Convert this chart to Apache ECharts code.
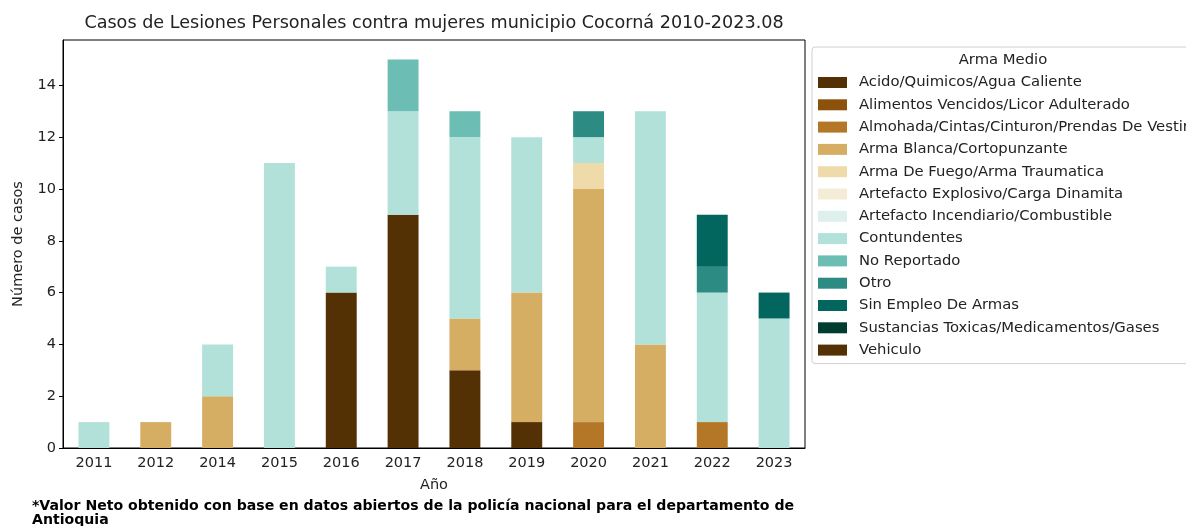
<!DOCTYPE html>
<html><head><meta charset="utf-8">
<script src="https://cdn.jsdelivr.net/npm/echarts@6/dist/echarts.min.js"></script>
<style>html,body{margin:0;padding:0;background:#fff}#c{width:1186px;height:526px}</style>
</head><body><div id="c"></div>
<script>
const years = ['2011','2012','2014','2015','2016','2017','2018','2019','2020','2021','2022','2023'];
const seriesNames = ['Acido/Quimicos/Agua Caliente','Alimentos Vencidos/Licor Adulterado','Almohada/Cintas/Cinturon/Prendas De Vestir','Arma Blanca/Cortopunzante','Arma De Fuego/Arma Traumatica','Artefacto Explosivo/Carga Dinamita','Artefacto Incendiario/Combustible','Contundentes','No Reportado','Otro','Sin Empleo De Armas','Sustancias Toxicas/Medicamentos/Gases','Vehiculo'];
const colors = ['#543005','#8c510a','#b47727','#d5ae64','#eedba9','#f5ecd8','#def0ec','#b1e1d9','#6cbdb3','#2c8c84','#02665e','#003c30','#543005'];
const acido       = [0,0,0,0,6,9,3,1,0,0,0,0];
const alimentos   = [0,0,0,0,0,0,0,0,0,0,0,0];
const almohada    = [0,0,0,0,0,0,0,0,1,0,1,0];
const armaBlanca  = [0,1,2,0,0,0,2,5,9,4,0,0];
const armaFuego   = [0,0,0,0,0,0,0,0,1,0,0,0];
const explosivo   = [0,0,0,0,0,0,0,0,0,0,0,0];
const incendiario = [0,0,0,0,0,0,0,0,0,0,0,0];
const contundentes= [1,0,2,11,1,4,7,6,1,9,5,5];
const noReportado = [0,0,0,0,0,2,1,0,0,0,0,0];
const otro        = [0,0,0,0,0,0,0,0,1,0,1,0];
const sinEmpleo   = [0,0,0,0,0,0,0,0,0,0,2,1];
const sustancias  = [0,0,0,0,0,0,0,0,0,0,0,0];
const vehiculo    = [0,0,0,0,0,0,0,0,0,0,0,0];
const yTicks = [0,2,4,6,8,10,12,14];
const allData = [acido,alimentos,almohada,armaBlanca,armaFuego,explosivo,incendiario,contundentes,noReportado,otro,sinEmpleo,sustancias,vehiculo];

const font = 'DejaVu Sans';
const txt = '#222';
const chart = echarts.init(document.getElementById('c'));
chart.setOption({
  animation: false,
  textStyle: {fontFamily: font},
  grid: {left: 63, top: 40, width: 742, height: 408, show: true, borderColor: '#000', borderWidth: 1, containLabel: false},
  xAxis: {
    type: 'category', data: years,
    axisLine: {lineStyle: {color: '#000'}},
    axisTick: {alignWithLabel: true, length: 4, lineStyle: {color: '#000'}},
    axisLabel: {color: txt, fontSize: 14.5, fontFamily: font, margin: 8},
    name: 'Año', nameLocation: 'middle', nameGap: 30,
    nameTextStyle: {color: txt, fontSize: 14.5, fontFamily: font}
  },
  yAxis: {
    type: 'value', min: 0, max: 15.75, interval: 2,
    splitLine: {show: false},
    axisLine: {show: true, lineStyle: {color: '#000'}},
    axisTick: {show: true, length: 4, lineStyle: {color: '#000'}, customValues: yTicks},
    axisLabel: {color: txt, fontSize: 14.5, fontFamily: font, margin: 7, customValues: yTicks},
    name: 'Número de casos', nameLocation: 'middle', nameGap: 37, nameRotate: 90,
    nameTextStyle: {color: txt, fontSize: 14.5, fontFamily: font}
  },
  legend: {
    orient: 'vertical', left: 812, top: 47,
    padding: [28, 420, 6, 6],
    itemWidth: 29, itemHeight: 11, itemGap: 7.3,
    borderColor: '#d0d0d0', borderWidth: 1, borderRadius: 3,
    backgroundColor: '#fff',
    textStyle: {fontSize: 14.8, fontFamily: font, color: txt, lineHeight: 14, padding: [0,0,0,7]},
    icon: 'rect',
    data: seriesNames
  },
  graphic: [
    {type: 'text', x: 434, y: 14, z: 100, style: {text: 'Casos de Lesiones Personales contra mujeres municipio Cocorná 2010-2023.08', font: '17.6px "DejaVu Sans"', fill: txt, textAlign: 'center'}},
    {type: 'text', x: 1003, y: 53, z: 100, style: {text: 'Arma Medio', font: '14.8px "DejaVu Sans"', fill: txt, textAlign: 'center'}},
    {type: 'text', x: 32, y: 499, z: 100, style: {text: '*Valor Neto obtenido con base en datos abiertos de la policía nacional para el departamento de\nAntioquia', font: 'bold 14.1px "DejaVu Sans"', lineHeight: 14, fill: '#000'}}
  ],
  series: seriesNames.map((n, i) => ({
    name: n, type: 'bar', stack: 'total', barWidth: '50%',
    data: allData[i],
    itemStyle: {color: colors[i]}
  }))
});
</script>
</body></html>
